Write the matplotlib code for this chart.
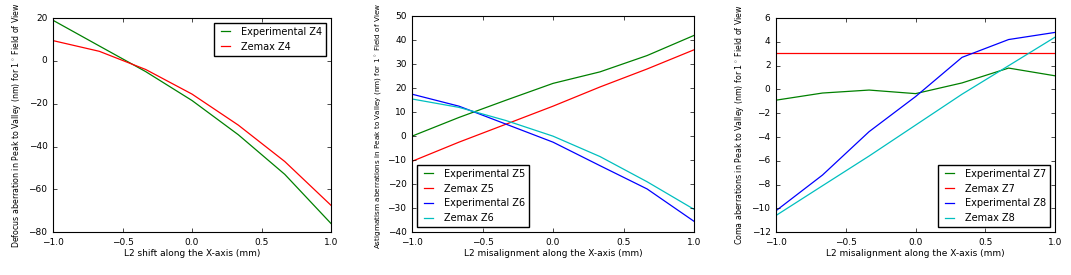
import numpy as np
import matplotlib
matplotlib.use("Agg")
import matplotlib.pyplot as plt

plt.style.use("classic")

# L2 shift positions (mm)
x_shift = [-1.0, -0.667, -0.333, 0.0, 0.333, 0.667, 1.0]

# Defocus (Z4)
exp_z4 = [19.0, 7.0, -5.0, -18.5, -34.5, -53.0, -76.0]
zem_z4 = [9.5, 4.5, -4.0, -15.5, -30.0, -47.0, -67.5]

# Astigmatism (Z5, Z6)
exp_z5 = [0.0, 7.8, 15.0, 22.0, 26.8, 33.6, 42.0]
zem_z5 = [-10.5, -2.5, 5.0, 12.5, 20.5, 28.0, 36.0]
exp_z6 = [17.5, 12.5, 5.0, -2.5, -12.3, -22.0, -35.5]
zem_z6 = [15.5, 12.0, 6.5, 0.0, -8.5, -19.0, -30.5]

# Coma (Z7, Z8)
exp_z7 = [-0.9, -0.3, -0.05, -0.35, 0.55, 1.8, 1.15]
zem_z7 = [3.05, 3.05, 3.05, 3.05, 3.05, 3.05, 3.05]
exp_z8 = [-10.2, -7.2, -3.55, -0.6, 2.7, 4.2, 4.8]
zem_z8 = [-10.6, -8.1, -5.6, -3.0, -0.4, 2.0, 4.4]

fs = 6.5
yfs = 5.7
fig = plt.figure(figsize=(10.71, 2.75), dpi=100, facecolor="white")

ax1 = fig.add_axes([0.0495, 0.156, 0.2596, 0.778])
ax2 = fig.add_axes([0.3847, 0.156, 0.2633, 0.785])
ax3 = fig.add_axes([0.7246, 0.156, 0.2605, 0.778])

ax1.plot(x_shift, exp_z4, color="g", lw=0.9, label="Experimental Z4")
ax1.plot(x_shift, zem_z4, color="r", lw=0.9, label="Zemax Z4")
ax1.set_ylim(-80, 20)
ax1.set_xlabel("L2 shift along the X-axis (mm)", fontsize=fs)
ax1.set_ylabel("Defocus aberration in Peak to Valley (nm) for 1$^\\circ$ Field of View", fontsize=yfs)
ax1.legend(loc="upper right", fontsize=7, handlelength=1.6)

ax2.plot(x_shift, exp_z5, color="g", lw=0.9, label="Experimental Z5")
ax2.plot(x_shift, zem_z5, color="r", lw=0.9, label="Zemax Z5")
ax2.plot(x_shift, exp_z6, color="b", lw=0.9, label="Experimental Z6")
ax2.plot(x_shift, zem_z6, color="c", lw=0.9, label="Zemax Z6")
ax2.set_ylim(-40, 50)
ax2.set_xlabel("L2 misalignment along the X-axis (mm)", fontsize=fs)
ax2.set_ylabel("Astigmatism aberrations in Peak to Valley (nm) for 1$^\\circ$ Field of View", fontsize=5.2)
ax2.yaxis.set_label_coords(-0.1, 0.49)
ax2.legend(loc="lower left", fontsize=7, handlelength=1.6)

ax3.plot(x_shift, exp_z7, color="g", lw=0.9, label="Experimental Z7")
ax3.plot(x_shift, zem_z7, color="r", lw=0.9, label="Zemax Z7")
ax3.plot(x_shift, exp_z8, color="b", lw=0.9, label="Experimental Z8")
ax3.plot(x_shift, zem_z8, color="c", lw=0.9, label="Zemax Z8")
ax3.set_ylim(-12, 6)
ax3.set_xlabel("L2 misalignment along the X-axis (mm)", fontsize=fs)
ax3.set_ylabel("Coma aberrations in Peak to Valley (nm) for 1$^\\circ$ Field of View", fontsize=yfs)
ax3.legend(loc="lower right", fontsize=7, handlelength=1.6)

for ax in (ax1, ax2, ax3):
    ax.set_xlim(-1.0, 1.0)
    ax.set_xticks([-1.0, -0.5, 0.0, 0.5, 1.0])
    ax.tick_params(labelsize=fs, length=3)
    ax.xaxis.labelpad = 2
    if ax is not ax2:
        ax.yaxis.labelpad = 4
    for sp in ax.spines.values():
        sp.set_linewidth(0.8)

fig.savefig("out.png", dpi=100, facecolor="white")
